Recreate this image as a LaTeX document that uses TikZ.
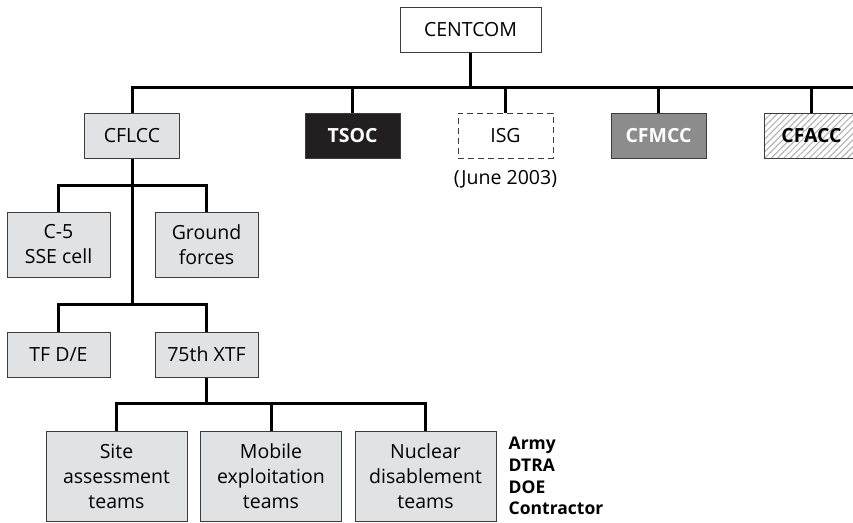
\documentclass[tikz,border=0pt]{standalone}
\usepackage{fontspec}
\setmainfont{Open Sans}
\usetikzlibrary{positioning,patterns.meta}
\definecolor{unitgray}{RGB}{225,226,228}
\definecolor{edgegray}{RGB}{60,60,60}
\definecolor{tsocblack}{RGB}{35,31,32}
\definecolor{cfmccgray}{RGB}{140,140,140}
\definecolor{hatchgray}{RGB}{175,175,175}
\newcommand{\unitfont}{\fontsize{19.5}{25}\selectfont}

\begin{document}
\begin{tikzpicture}[x=1pt, y=-1pt, font=\unitfont,
	unit/.style={
		draw=edgegray,
		line width=1pt,
		fill=unitgray,
		align=center,
		inner sep=0pt,
		minimum height=45pt,
		font=\unitfont
	},
	topunit/.style={unit, minimum width=95pt},
	cellunit/.style={unit, minimum width=103pt},
	teamunit/.style={unit, minimum width=141pt, minimum height=90pt},
	link/.style={line width=3pt, line join=miter}]
		\clip (0,0) rectangle (853,522);

		% command level
		\node[unit,minimum width=141pt,fill=white]                         (centcom) at (470.5,29.5) {CENTCOM};
		\node[topunit]                                                     (cflcc)   at (132,135.5)  {CFLCC};
		\node[topunit,fill=tsocblack,text=white,font=\unitfont\bfseries]   (tsoc)    at (352.5,135.5) {TSOC};
		\node[topunit,fill=white,dash pattern=on 6pt off 4pt,right=57pt of tsoc] (isg)   {ISG};
		\node[topunit,fill=cfmccgray,text=white,font=\unitfont\bfseries,right=57pt of isg] (cfmcc) {CFMCC};
		\node[topunit,fill=white,preaction={fill=white},
			pattern={Lines[angle=45,distance=4.5pt,line width=1pt]},pattern color=hatchgray,
			font=\unitfont\bfseries,right=57pt of cfmcc]                    (cfacc)   {CFACC};
		\node[below=12pt of isg,inner sep=0pt]                             (isgdate) {(June 2003)};

		% land component
		\node[cellunit,minimum height=65pt]                   (c5)      at (58.5,244.5) {C-5\\SSE cell};
		\node[cellunit,minimum height=65pt,right=44pt of c5]  (ground)  {Ground\\forces};
		\node[cellunit]                                       (tfde)    at (58.5,354.5) {TF D/E};
		\node[cellunit,right=44pt of tfde]                    (xtf)     {75th XTF};

		% teams
		\node[teamunit]                                       (site)    at (116.5,476) {Site\\assessment\\teams};
		\node[teamunit,right=12.5pt of site]                  (mobile)  {Mobile\\exploitation\\teams};
		\node[teamunit,right=12.5pt of mobile]                (nuclear) {Nuclear\\disablement\\teams};
		\node[right=12pt of nuclear,align=left,inner sep=0pt,
			font=\fontsize{17.5}{21.7}\selectfont\bfseries]   (agencies) {Army\\DTRA\\DOE\\Contractor};

		\coordinate (topbar)  at (0,87);
		\coordinate (barend)  at (856,87);
		\coordinate (cellbar) at (0,185);
		\coordinate (tfbar)   at (0,304.5);
		\coordinate (teambar) at (0,403);

		\draw[link] (centcom.south) -- (centcom |- topbar);
		\draw[link] (cflcc.north) |- (barend);
		\foreach \unit in {tsoc,isg,cfmcc,cfacc}
			\draw[link] (\unit.north) -- (\unit |- topbar);
		\draw[link] (cflcc.south) -- (cflcc |- tfbar);
		\draw[link] (c5.north) -- (c5 |- cellbar) -| (ground.north);
		\draw[link] (tfde.north) -- (tfde |- tfbar) -| (xtf.north);
		\draw[link] (xtf.south) -- (xtf |- teambar);
		\draw[link] (site.north) -- (site |- teambar) -| (nuclear.north);
		\draw[link] (mobile.north) -- (mobile |- teambar);
	\end{tikzpicture}
\end{document}
